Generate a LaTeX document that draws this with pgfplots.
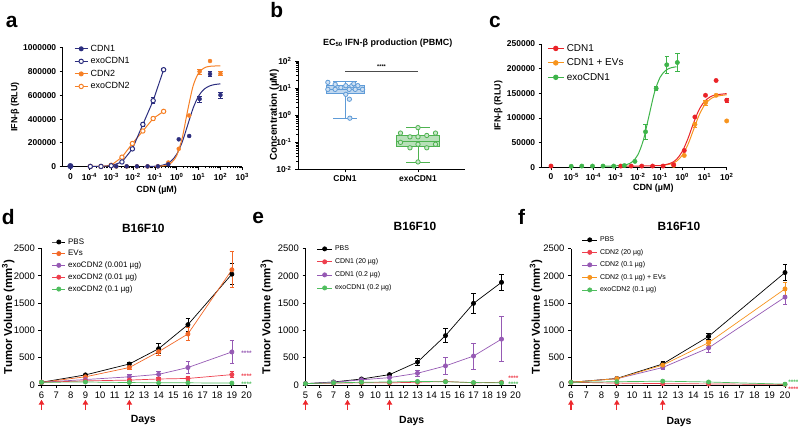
\documentclass[border=0pt]{standalone}
\usepackage{fontspec}
\setmainfont{Liberation Sans}
\usepackage{pgfplots}
\pgfplotsset{compat=1.18}
\usetikzlibrary{arrows.meta}

\definecolor{navy}{RGB}{44,46,127}
\definecolor{orA}{RGB}{246,128,38}
\definecolor{redC}{RGB}{234,35,40}
\definecolor{orC}{RGB}{247,148,30}
\definecolor{grC}{RGB}{62,180,74}
\definecolor{blueB}{RGB}{95,155,215}
\definecolor{greenB}{RGB}{78,178,80}
\definecolor{orD}{RGB}{242,104,40}
\definecolor{puD}{RGB}{150,90,180}
\definecolor{reD}{RGB}{238,64,78}
\definecolor{grD}{RGB}{80,190,95}
\definecolor{arr}{RGB}{237,40,45}

\newcommand{\fs}[1]{\fontsize{#1}{#1}\selectfont}
\newcommand{\tsup}[1]{10\textsuperscript{#1}}

\tikzset{sigstar/.style={font=\fs{6.5}\bfseries, inner sep=0pt, yshift=-1.5bp}}

\pgfplotsset{
  gp/.style={scale only axis, anchor=south west, clip=false,
    axis x line*=bottom, axis y line*=left,
    axis line style={-, line width=0.8bp},
    tick align=outside, major tick length=3bp, minor tick length=1.6bp,
    tick style={line width=0.8bp, black},
    scaled y ticks=false,
    /pgf/number format/assume math mode=true,
    /pgf/number format/1000 sep={},
    legend cell align=left,
    legend style={draw=none, fill=none, inner sep=0pt, anchor=north west,
      nodes={inner xsep=2.5bp, inner ysep=0pt}}},
  limg/.style={legend image code/.code={\draw[mark repeat=2,mark phase=2,##1] plot coordinates {(0bp,0bp) (#1/2,0bp) (#1,0bp)};}},
  eb/.style={error bars/.cd, y dir=both, y explicit, error bar style={line width=0.7bp},
    error mark options={rotate=90, mark size=2.2bp, line width=0.7bp}},
  ser/.style={line width=0.7bp, mark=*, mark size=2.1bp, eb},
}

\begin{document}
\begin{tikzpicture}
\path[use as bounding box] (0,0) rectangle (798bp,429bp);

% ---------- a ----------
\begin{axis}[gp, at={(62.7bp,262.3bp)}, width=179.6bp, height=119bp,
  xmode=log, xmin=6e-6, xmax=1000, ymin=0, ymax=1000000,
  xtick={1.35e-5,1e-4,1e-3,1e-2,1e-1,1,10,100,1000},
  xticklabels={0,\tsup{-4},\tsup{-3},\tsup{-2},\tsup{-1},\tsup{0},\tsup{1},\tsup{2},\tsup{3}},
  minor xtick={2e-4,3e-4,4e-4,5e-4,6e-4,7e-4,8e-4,9e-4,2e-3,3e-3,4e-3,5e-3,6e-3,7e-3,8e-3,9e-3,0.02,0.03,0.04,0.05,0.06,0.07,0.08,0.09,0.2,0.3,0.4,0.5,0.6,0.7,0.8,0.9,2,3,4,5,6,7,8,9,20,30,40,50,60,70,80,90,200,300,400,500,600,700,800,900},
  ytick={0,200000,400000,600000,800000,1000000},
  yticklabels={0,200000,400000,600000,800000,1000000},
  tick label style={font=\fs{8.5}\bfseries},
  legend style={at={(axis description cs:0.063,1.025)}, font=\fs{9}, row sep=4.8bp},
  limg=13bp]
\addlegendimage{navy, line width=1bp, mark=*, mark size=2bp}\addlegendentry{CDN1}
\addlegendimage{navy, line width=1bp, mark=*, mark size=2.2bp, mark options={fill=white}}\addlegendentry{exoCDN1}
\addlegendimage{orA, line width=1bp, mark=*, mark size=2bp}\addlegendentry{CDN2}
\addlegendimage{orA, line width=1bp, mark=*, mark size=2.2bp, mark options={fill=white}}\addlegendentry{exoCDN2}
% fitted curves
\addplot[navy, line width=1bp, smooth, forget plot] coordinates {(0.0316,700)(0.1,3914)(0.178,9210)(0.316,21470)(0.562,48800)(1,105700)(1.78,207700)(3.16,350000)(5.62,492400)(10,594300)(17.8,651200)(31.6,678500)(56.2,690800)(100,696100)};
\addplot[orA, line width=1bp, smooth, forget plot] coordinates {(0.1,1069)(0.316,10570)(0.562,32560)(1,95060)(1.78,242100)(3.16,473800)(5.62,679400)(10,787500)(17.8,829200)(31.6,843300)(100,847900)};
% exo series (connected)
\addplot[orA, line width=1bp, mark=*, mark size=2.2bp, mark options={fill=white}, forget plot, eb] coordinates {(1.1e-4,2000)(3.4e-4,2000)(1e-3,12000)(3.1e-3,80000)(9.3e-3,195000)(0.028,300000)(0.083,405000)+-(0,12000)(0.25,465000)};
\addplot[navy, line width=1bp, mark=*, mark size=2.2bp, mark options={fill=white}, forget plot, eb] coordinates {(1.1e-4,2000)(3.4e-4,2000)(1e-3,8000)(3.1e-3,40000)(9.3e-3,150000)(0.028,355000)+-(0,18000)(0.083,555000)+-(0,25000)(0.25,815000)+-(0,8000)};
% free compounds (points)
\addplot[orA, only marks, mark=*, mark size=2bp, forget plot, eb] coordinates {(0.0017,2000)(0.0051,2000)(0.015,2000)(0.046,2000)(0.137,3000)(0.41,35000)(1.23,150000)(3.7,430000)(11.1,800000)+-(0,20000)(33.3,888000)(100,782000)+-(0,16000)};
\addplot[navy, only marks, mark=*, mark size=2bp, forget plot, eb] coordinates {(0.0017,3000)(0.0051,3000)(0.015,3000)(0.046,3000)(0.137,3000)(0.41,20000)(1.23,230000)(3.7,258000)(11.1,569000)+-(0,25000)(33.3,779000)+-(0,20000)(100,602000)+-(0,25000)};
\addplot[navy, only marks, mark=*, mark size=2.8bp, forget plot] coordinates {(1.35e-5,5000)};
\end{axis}
\node[font=\fs{21}\bfseries] at (11.7bp,407.3bp) {a};
\node[rotate=90, font=\fs{9}\bfseries] at (15bp,322bp) {IFN-β (RLU)};
\node[font=\fs{9}\bfseries] at (156.7bp,239bp) {CDN (µM)};

% ---------- b ----------
\begin{axis}[gp, at={(298bp,259.5bp)}, width=167bp, height=108.5bp,
  ymode=log, ymin=0.01, ymax=100, xmin=0.356, xmax=2.644,
  xtick={1,2}, xticklabels={CDN1,exoCDN1},
  ytick={0.01,0.1,1,10,100},
  yticklabels={\tsup{-2},\tsup{-1},\tsup{0},\tsup{1},\tsup{2}},
  tick label style={font=\fs{8.5}\bfseries}]
% CDN1 box
\addplot[blueB, fill=blueB!40, line width=0.8bp] coordinates {(0.74,6.5)(1.26,6.5)(1.26,12.3)(0.74,12.3)(0.74,6.5)};
\addplot[blueB, line width=0.8bp] coordinates {(0.74,9)(1.26,9)};
\addplot[blueB, line width=0.8bp] coordinates {(1,12.3)(1,17.5)};
\addplot[blueB, line width=0.8bp] coordinates {(1,6.5)(1,0.78)};
\addplot[blueB, line width=0.8bp] coordinates {(0.84,17.5)(1.16,17.5)};
\addplot[blueB, line width=0.8bp] coordinates {(0.84,0.78)(1.16,0.78)};
\addplot[blueB, only marks, mark=*, mark size=2.2bp, mark options={fill=blueB!30, line width=0.8bp}] coordinates {(0.765,16.3)(0.865,13.8)(0.943,10.5)(1.011,12.3)(1.094,12.3)(1.176,12.3)(1.24,9)(1.14,9)(1.057,9)(0.865,9)(0.765,9)(1.011,5.9)(1.06,3.9)(1.066,0.78)(1.12,14.5)};
% exoCDN1 box
\addplot[greenB, fill=greenB!40, line width=0.8bp] coordinates {(1.7,0.069)(2.3,0.069)(2.3,0.186)(1.7,0.186)(1.7,0.069)};
\addplot[greenB, line width=0.8bp] coordinates {(1.7,0.112)(2.3,0.112)};
\addplot[greenB, line width=0.8bp] coordinates {(2,0.186)(2,0.35)};
\addplot[greenB, line width=0.8bp] coordinates {(2,0.069)(2,0.019)};
\addplot[greenB, line width=0.8bp] coordinates {(1.84,0.35)(2.16,0.35)};
\addplot[greenB, line width=0.8bp] coordinates {(1.84,0.019)(2.16,0.019)};
\addplot[greenB, only marks, mark=*, mark size=2.2bp, mark options={fill=greenB!30, line width=0.8bp}] coordinates {(2,0.35)(1.76,0.22)(1.89,0.16)(2,0.16)(2.12,0.18)(2.24,0.22)(1.76,0.10)(2,0.085)(2.12,0.063)(1.89,0.063)(2.24,0.085)(2,0.019)};
\addplot[black!70, line width=0.6bp] coordinates {(1,40)(2,40)};
\node[font=\fs{5.5}\bfseries, anchor=south] at (axis cs:1.5,40) {****};
\end{axis}
\node[font=\fs{21}\bfseries] at (276.7bp,419bp) {b};
\node[font=\fs{9}\bfseries] at (387.7bp,385.7bp) {EC\textsubscript{50} IFN-β production (PBMC)};
\node[rotate=90, font=\fs{10}\bfseries] at (274.3bp,314bp) {Concentration (µM)};

% ---------- c ----------
\begin{axis}[gp, at={(541.7bp,261.7bp)}, width=185bp, height=123.3bp,
  xmode=log, xmin=4.7e-7, xmax=100, ymin=0, ymax=250000,
  xtick={1.23e-6,1e-5,1e-4,1e-3,1e-2,1e-1,1,10,100},
  xticklabels={0,\tsup{-5},\tsup{-4},\tsup{-3},\tsup{-2},\tsup{-1},\tsup{0},\tsup{1},\tsup{2}},
  ytick={0,50000,100000,150000,200000,250000},
  yticklabels={0,50000,100000,150000,200000,250000},
  tick label style={font=\fs{8.5}\bfseries},
  legend style={at={(axis description cs:0.029,1.0)}, font=\fs{10}, row sep=6bp},
  limg=16bp]
\addlegendimage{redC, line width=1bp, mark=*, mark size=2.2bp}\addlegendentry{CDN1}
\addlegendimage{orC, line width=1bp, mark=*, mark size=2.2bp}\addlegendentry{CDN1 + EVs}
\addlegendimage{grC, line width=1bp, mark=*, mark size=2.2bp}\addlegendentry{exoCDN1}
\addplot[orC, line width=1bp, smooth, forget plot] coordinates {(0.1,3314)(0.316,6960)(0.562,12660)(1,24480)(1.78,45680)(3.16,75250)(5.62,104850)(10,126040)(17.8,137850)(31.6,143540)(100,147190)};
\addplot[redC, line width=1bp, smooth, forget plot] coordinates {(0.0015,2500)(0.01,2600)(0.1,3661)(0.316,8800)(0.562,16630)(1,32120)(1.78,57540)(3.16,88860)(5.62,116090)(10,133500)(17.8,142560)(31.6,146770)(100,149410)};
\addplot[grC, line width=1bp, smooth, forget plot] coordinates {(3e-4,2550)(1e-3,2904)(3.16e-3,5659)(5.62e-3,11150)(0.01,25150)(0.0178,55500)(0.0316,103750)(0.0562,151950)(0.1,182350)(0.178,196340)(0.316,201850)(0.55,203800)};
\addplot[orC, only marks, mark=*, mark size=2.2bp, forget plot, eb] coordinates {(0.41,4000)(1.23,24000)(3.7,87000)+-(0,5000)(11.1,131000)+-(0,5000)(33.3,146000)(100,94000)};
\addplot[redC, only marks, mark=*, mark size=2.2bp, forget plot, eb] coordinates {(1.23e-6,2500)(0.0017,2500)(0.005,2500)(0.015,2500)(0.046,2500)(0.137,2500)(0.41,5000)(1.23,34000)(3.7,102000)(11.1,146000)(33.3,176000)(100,136000)+-(0,4000)};
\addplot[grC, only marks, mark=*, mark size=2.2bp, forget plot, eb] coordinates {(1e-5,2000)(3e-5,2500)(9.1e-5,2500)(2.7e-4,2500)(8.2e-4,2500)(2.47e-3,3500)(7.4e-3,12000)(0.0222,72000)+-(0,15000)(0.0667,160000)+-(0,4000)(0.2,207800)+-(0,17000)(0.6,212500)+-(0,18000)};
\end{axis}
\node[font=\fs{21}\bfseries] at (495bp,407.3bp) {c};
\node[rotate=90, font=\fs{9}\bfseries] at (498.3bp,323.3bp) {IFN-β (RLU)};
\node[font=\fs{9}\bfseries] at (653.3bp,240.7bp) {CDN (µM)};

% ---------- d ----------
\begin{axis}[gp, at={(41.5bp,44bp)}, width=205bp, height=136.5bp,
  xmin=6, xmax=20, ymin=0, ymax=2500, xtick={6,7,...,20}, ytick={0,500,...,2500},
  tick label style={font=\fs{9.5}},
  legend style={at={(axis description cs:0.05,1.075)}, font=\fs{8}, row sep=4.6bp},
  limg=13bp]
\addplot[black, ser] coordinates {(6,50)(9,185)(12,385)+-(0,35)(14,665)+-(0,90)(16,1105)+-(0,120)(19,2030)+-(0,190)};
\addlegendentry{PBS}
\addplot[orD, ser] coordinates {(6,50)(9,150)(12,320)+-(0,30)(14,610)+-(0,70)(16,935)+-(0,120)(19,2110)+-(0,330)};
\addlegendentry{EVs}
\addplot[puD, ser] coordinates {(6,50)(9,100)(12,150)+-(0,40)(14,195)+-(0,55)(16,320)+-(0,110)(19,605)+-(0,215)};
\addlegendentry{exoCDN2 (0.001 µg)}
\addplot[reD, ser] coordinates {(6,50)(9,75)(12,90)+-(0,20)(14,110)+-(0,25)(16,120)+-(0,30)(19,190)+-(0,55)};
\addlegendentry{exoCDN2 (0.01 µg)}
\addplot[grD, ser] coordinates {(6,50)(9,55)(12,45)(14,40)(16,40)(19,35)};
\addlegendentry{exoCDN2 (0.1 µg)}
\node[puD, sigstar] at (axis cs:20,605) {****};
\node[reD, sigstar] at (axis cs:20,190) {****};
\node[grD, sigstar] at (axis cs:20,45) {****};
\pgfplotsinvokeforeach{6,9,12}{\draw[arr, line width=1.1bp, -{Triangle[length=5bp,width=5.5bp]}] (axis cs:#1,-460) -- (axis cs:#1,-270);}
\end{axis}
\node[font=\fs{21}\bfseries] at (8.3bp,212.3bp) {d};
\node[font=\fs{12}\bfseries] at (143.3bp,200.7bp) {B16F10};
\node[rotate=90, font=\fs{11.5}\bfseries] at (8.3bp,112.3bp) {Tumor Volume (mm\textsuperscript{3})};
\node[font=\fs{10.5}\bfseries] at (143.3bp,9bp) {Days};

% ---------- e ----------
\begin{axis}[gp, at={(305.5bp,44bp)}, width=210bp, height=136.5bp,
  xmin=5, xmax=20, ymin=0, ymax=2500, xtick={5,6,...,20}, ytick={0,500,...,2500},
  tick label style={font=\fs{9.5}},
  legend style={at={(axis description cs:0.053,1.022)}, font=\fs{7}, row sep=6.5bp},
  limg=15bp]
\addplot[black, ser] coordinates {(5,25)(7,55)(9,110)(11,190)(13,420)+-(0,60)(15,905)+-(0,130)(17,1495)+-(0,190)(19,1880)+-(0,145)};
\addlegendentry{PBS}
\addplot[reD, ser] coordinates {(5,25)(7,35)(9,40)(11,40)(13,50)(15,65)(17,40)(19,50)};
\addlegendentry{CDN1 (20 µg)}
\addplot[puD, ser] coordinates {(5,25)(7,50)(9,95)(11,135)(13,215)+-(0,60)(15,350)+-(0,150)(17,530)+-(0,240)(19,840)+-(0,415)};
\addlegendentry{CDN1 (0.2 µg)}
\addplot[grD, ser] coordinates {(5,25)(7,40)(9,50)(11,55)(13,65)(15,60)(17,45)(19,40)};
\addlegendentry{exoCDN1 (0.2 µg)}
\node[reD, sigstar] at (axis cs:19.85,150) {****};
\node[grD, sigstar] at (axis cs:19.85,40) {****};
\pgfplotsinvokeforeach{5,8,11}{\draw[arr, line width=1.1bp, -{Triangle[length=5bp,width=5.5bp]}] (axis cs:#1,-460) -- (axis cs:#1,-270);}
\end{axis}
\node[font=\fs{21}\bfseries] at (258.3bp,210.7bp) {e};
\node[font=\fs{12}\bfseries] at (415bp,203bp) {B16F10};
\node[rotate=90, font=\fs{11.5}\bfseries] at (266.7bp,112.3bp) {Tumor Volume (mm\textsuperscript{3})};
\node[font=\fs{10.5}\bfseries] at (411.7bp,8.3bp) {Days};

% ---------- f ----------
\begin{axis}[gp, at={(571bp,44bp)}, width=214bp, height=136.5bp,
  xmin=6, xmax=20, ymin=0, ymax=2500, xtick={6,7,...,20}, ytick={0,500,...,2500},
  tick label style={font=\fs{9.5}},
  legend style={at={(axis description cs:0.05,1.088)}, font=\fs{7}, row sep=6bp},
  limg=15bp]
\addplot[black, ser] coordinates {(6,50)(9,120)(12,385)+-(0,40)(15,890)+-(0,60)(20,2060)+-(0,150)};
\addlegendentry{PBS}
\addplot[reD, ser] coordinates {(6,50)(9,35)(12,25)(15,20)(20,10)};
\addlegendentry{CDN2 (20 µg)}
\addplot[puD, ser] coordinates {(6,50)(9,115)(12,320)+-(0,25)(15,680)+-(0,75)(20,1610)+-(0,130)};
\addlegendentry{CDN2 (0.1 µg)}
\addplot[orC, ser] coordinates {(6,50)(9,115)(12,365)(15,775)+-(0,50)(20,1760)+-(0,120)};
\addlegendentry{CDN2 (0.1 µg) + EVs}
\addplot[grD, ser] coordinates {(6,50)(9,60)(12,70)(15,55)(20,15)};
\addlegendentry{exoCDN2 (0.1 µg)}
\node[grD, sigstar] at (axis cs:20.55,70) {****};
\node[reD, sigstar] at (axis cs:20.55,-55) {****};
\pgfplotsinvokeforeach{6,9,12}{\draw[arr, line width=1.1bp, -{Triangle[length=5bp,width=5.5bp]}] (axis cs:#1,-460) -- (axis cs:#1,-270);}
\end{axis}
\node[font=\fs{21}\bfseries] at (521.7bp,212.3bp) {f};
\node[font=\fs{12}\bfseries] at (679bp,202.3bp) {B16F10};
\node[rotate=90, font=\fs{11.5}\bfseries] at (536bp,112.3bp) {Tumor Volume (mm\textsuperscript{3})};
\node[font=\fs{10.5}\bfseries] at (679bp,7.3bp) {Days};
\end{tikzpicture}
\end{document}
